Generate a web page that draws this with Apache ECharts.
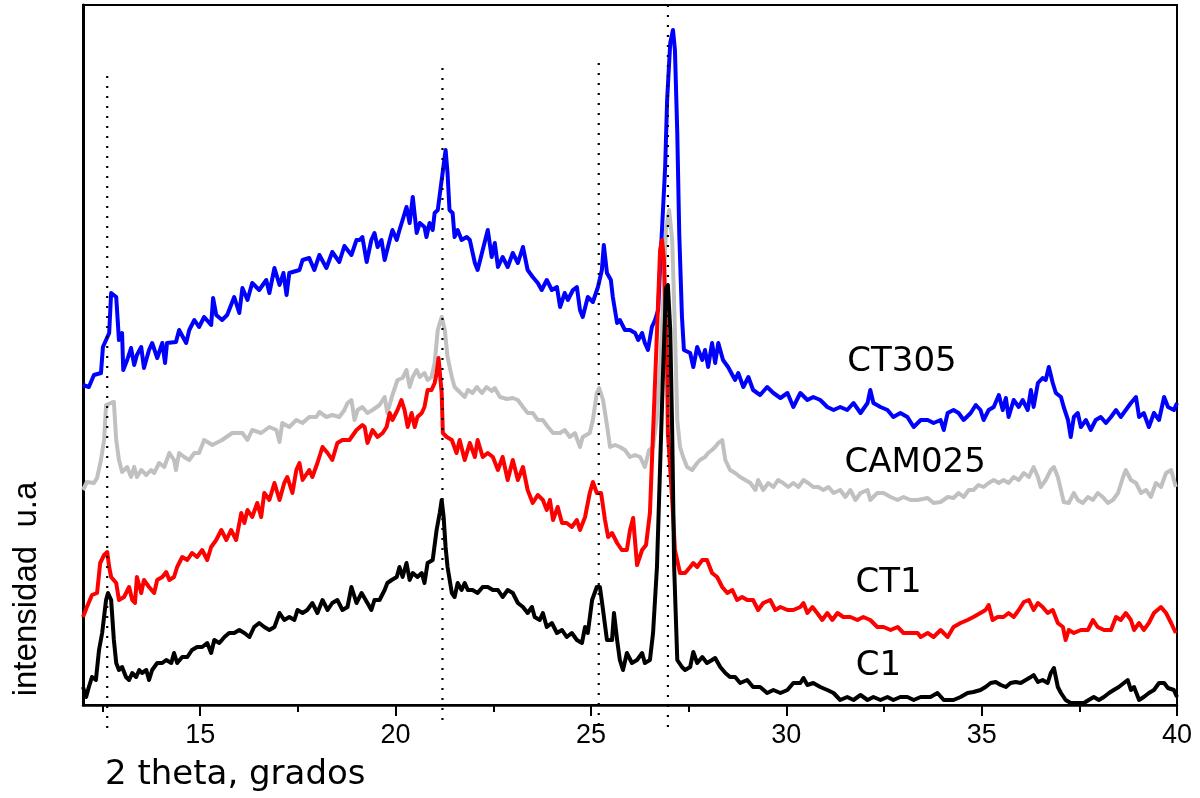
<!DOCTYPE html>
<html><head><meta charset="utf-8">
<script src="https://cdn.jsdelivr.net/npm/echarts@6/dist/echarts.min.js"></script>
<style>html,body{margin:0;padding:0;background:#fff}#c{width:1200px;height:798px}</style>
</head><body><div id="c"></div>
<script>
// 2 theta (grados) vs intensidad (u.a.)
const majorTicks = [15, 20, 25, 30, 35, 40];
const minorTicks = [12.5, 17.5, 22.5, 27.5, 32.5, 37.5];
const refPeaks = [12.62, 21.2, 25.2, 26.97];
const refTop = [630, 638, 643, 701];
const refBottom = -22;
const curveNames = ['CT305', 'CAM025', 'CT1', 'C1'];
const labelPos = [[32.96, 344], [33.30, 243], [32.62, 123], [32.36, 40]];

const ct305 = [[12.00,321],[12.15,319],[12.28,331],[12.46,333],[12.51,359],[12.67,373],[12.72,413],[12.85,409],[12.92,366],[13.00,373],
[13.03,336],[13.13,346],[13.23,358],[13.31,341],[13.38,351],[13.49,359],[13.56,338],[13.69,356],[13.77,363],[13.90,348],
[14.03,363],[14.10,343],[14.15,363],[14.38,364],[14.46,376],[14.64,363],[14.72,376],[14.85,386],[14.97,379],[15.10,389],
[15.28,381],[15.33,408],[15.41,391],[15.56,386],[15.69,391],[15.87,409],[16.00,393],[16.08,418],[16.21,406],[16.33,423],
[16.51,416],[16.69,426],[16.77,413],[16.90,438],[17.03,421],[17.13,433],[17.21,411],[17.28,433],[17.54,436],[17.62,446],
[17.79,448],[17.92,436],[18.05,451],[18.23,438],[18.38,454],[18.56,444],[18.69,460],[18.87,451],[19.00,466],[19.08,466],
[19.15,469],[19.26,444],[19.38,466],[19.46,473],[19.54,459],[19.64,466],[19.72,446],[19.85,466],[19.92,476],[20.03,466],
[20.10,476],[20.18,486],[20.28,499],[20.36,483],[20.44,509],[20.54,473],[20.62,483],[20.74,479],[20.79,469],[20.87,483],
[20.95,476],[21.00,493],[21.08,496],[21.18,526],[21.28,556],[21.33,533],[21.38,496],[21.46,493],[21.51,469],[21.59,476],
[21.69,466],[21.82,469],[21.90,466],[22.03,443],[22.10,436],[22.23,456],[22.36,476],[22.46,449],[22.54,463],[22.62,439],
[22.74,449],[22.87,439],[23.00,453],[23.13,443],[23.26,459],[23.38,436],[23.51,429],[23.64,423],[23.74,416],[23.87,426],
[24.00,416],[24.13,419],[24.21,399],[24.33,413],[24.41,406],[24.54,416],[24.64,419],[24.72,396],[24.79,389],[24.92,409],
[25.05,404],[25.18,419],[25.28,436],[25.33,461],[25.41,433],[25.51,426],[25.56,409],[25.67,383],[25.74,386],[25.87,376],
[26.00,376],[26.13,373],[26.21,366],[26.31,373],[26.38,363],[26.46,356],[26.56,379],[26.64,386],[26.72,396],[26.77,439],
[26.90,539],[26.95,606],[27.03,663],[27.10,676],[27.15,656],[27.21,573],[27.26,473],[27.33,389],[27.38,356],[27.54,353],
[27.62,339],[27.72,359],[27.85,346],[27.92,356],[28.00,339],[28.10,363],[28.18,343],[28.26,363],[28.38,346],[28.51,339],
[28.69,326],[28.77,333],[28.90,319],[29.03,329],[29.15,316],[29.33,311],[29.51,319],[29.67,313],[29.85,308],[30.03,313],
[30.18,299],[30.36,313],[30.54,306],[30.69,309],[30.87,306],[31.05,299],[31.21,296],[31.38,299],[31.56,296],[31.72,303],
[31.90,293],[32.08,303],[32.15,316],[32.23,303],[32.41,299],[32.59,296],[32.74,289],[32.92,293],[33.10,289],[33.26,279],
[33.44,286],[33.62,286],[33.77,283],[33.95,286],[34.03,276],[34.13,293],[34.28,296],[34.41,293],[34.54,286],[34.72,293],
[34.85,301],[34.97,296],[35.05,286],[35.18,296],[35.31,299],[35.44,311],[35.54,296],[35.62,308],[35.69,289],[35.82,306],
[35.95,299],[36.05,306],[36.18,296],[36.26,316],[36.33,299],[36.44,323],[36.56,328],[36.64,326],[36.72,339],[36.82,323],
[36.90,313],[37.03,309],[37.10,299],[37.21,286],[37.28,269],[37.36,289],[37.46,293],[37.54,279],[37.67,286],[37.79,276],
[37.92,286],[38.05,289],[38.18,283],[38.31,289],[38.44,296],[38.56,289],[38.69,296],[38.82,303],[38.95,309],[39.03,289],
[39.15,293],[39.28,279],[39.41,293],[39.54,286],[39.67,309],[39.77,299],[39.92,296],[40.00,303]];

const cam025 = [[12.00,216],[12.10,224],[12.28,223],[12.36,228],[12.46,246],[12.54,266],[12.59,301],[12.72,303],[12.79,304],[12.85,266],
[12.92,246],[13.00,234],[13.13,239],[13.23,229],[13.31,239],[13.38,229],[13.49,236],[13.62,231],[13.74,236],[13.82,233],
[13.95,243],[14.08,239],[14.21,253],[14.33,246],[14.38,236],[14.46,253],[14.59,249],[14.72,246],[14.85,253],[14.97,253],
[15.10,266],[15.31,261],[15.56,266],[15.82,273],[16.08,273],[16.21,266],[16.33,276],[16.56,273],[16.77,279],[16.95,276],
[17.03,264],[17.10,283],[17.28,279],[17.46,286],[17.62,283],[17.79,289],[17.97,289],[18.05,294],[18.23,289],[18.38,291],
[18.56,289],[18.69,296],[18.77,303],[18.87,306],[18.95,286],[19.03,296],[19.15,299],[19.28,293],[19.41,296],[19.59,301],
[19.72,309],[19.79,293],[19.92,311],[20.05,326],[20.18,328],[20.28,336],[20.36,319],[20.44,329],[20.54,336],[20.62,329],
[20.74,333],[20.82,326],[20.92,329],[21.00,343],[21.08,376],[21.18,389],[21.26,376],[21.33,349],[21.44,329],[21.51,319],
[21.64,314],[21.77,309],[21.85,316],[21.97,313],[22.08,319],[22.21,313],[22.33,319],[22.46,315],[22.54,318],[22.67,309],
[22.85,307],[23.00,308],[23.13,306],[23.26,299],[23.38,293],[23.51,293],[23.64,286],[23.77,286],[23.90,279],[24.03,273],
[24.21,273],[24.33,276],[24.46,269],[24.59,273],[24.72,259],[24.79,269],[24.97,273],[25.05,286],[25.15,313],[25.21,318],
[25.31,306],[25.41,281],[25.49,259],[25.62,261],[25.74,259],[25.87,256],[26.00,249],[26.13,251],[26.26,249],[26.38,239],
[26.49,256],[26.59,259],[26.69,289],[26.77,339],[26.85,406],[26.92,476],[27.00,496],[27.08,466],[27.15,376],[27.21,286],
[27.28,259],[27.36,249],[27.46,239],[27.59,236],[27.72,243],[27.79,246],[27.92,249],[28.00,253],[28.10,256],[28.18,259],
[28.26,263],[28.36,266],[28.44,246],[28.56,236],[28.69,233],[28.82,229],[28.95,226],[29.08,223],[29.21,216],[29.28,226],
[29.41,216],[29.54,223],[29.67,219],[29.79,226],[29.92,223],[30.05,219],[30.18,223],[30.31,219],[30.44,226],[30.56,223],
[30.69,219],[30.82,219],[30.95,216],[31.08,219],[31.21,213],[31.38,216],[31.51,209],[31.64,216],[31.77,206],[31.90,213],
[32.08,216],[32.15,206],[32.33,213],[32.49,213],[32.67,209],[32.85,206],[33.00,209],[33.18,206],[33.36,206],[33.62,208],
[33.77,203],[33.95,204],[34.13,209],[34.28,208],[34.41,213],[34.54,209],[34.67,216],[34.79,216],[34.92,221],[35.05,219],
[35.18,223],[35.31,226],[35.44,223],[35.56,226],[35.69,223],[35.82,229],[35.95,226],[36.08,233],[36.21,229],[36.33,239],
[36.44,229],[36.51,219],[36.64,226],[36.77,236],[36.85,239],[36.95,229],[37.03,216],[37.10,204],[37.23,203],[37.36,213],
[37.46,206],[37.59,203],[37.72,209],[37.85,206],[37.97,213],[38.10,209],[38.23,203],[38.36,206],[38.49,213],[38.62,229],
[38.69,236],[38.82,226],[38.95,223],[39.08,213],[39.21,216],[39.33,209],[39.46,223],[39.59,219],[39.72,233],[39.85,236],
[39.97,219]];

const ct1 = [[12.00,89],[12.10,99],[12.23,111],[12.36,113],[12.44,143],[12.54,151],[12.62,154],[12.67,139],[12.72,129],[12.85,123],
[12.92,106],[13.05,109],[13.18,119],[13.26,106],[13.33,103],[13.38,129],[13.49,113],[13.56,126],[13.69,119],[13.82,113],
[13.90,126],[14.03,129],[14.13,134],[14.21,126],[14.33,129],[14.41,139],[14.54,149],[14.67,146],[14.79,153],[14.92,149],
[15.05,156],[15.18,146],[15.28,159],[15.41,166],[15.54,176],[15.67,166],[15.79,176],[15.92,166],[16.05,193],[16.13,183],
[16.21,196],[16.33,189],[16.46,203],[16.56,189],[16.64,213],[16.77,206],[16.90,223],[17.03,206],[17.15,223],[17.23,229],
[17.36,213],[17.46,236],[17.54,243],[17.62,226],[17.79,236],[17.87,229],[18.00,243],[18.13,259],[18.26,253],[18.38,246],
[18.51,263],[18.64,266],[18.82,266],[19.00,276],[19.15,281],[19.21,279],[19.28,263],[19.41,276],[19.54,269],[19.67,273],
[19.77,279],[19.85,293],[19.92,286],[20.05,296],[20.15,306],[20.23,296],[20.31,279],[20.41,293],[20.49,279],[20.56,289],
[20.67,293],[20.74,299],[20.82,316],[20.92,316],[21.00,323],[21.05,333],[21.10,348],[21.18,313],[21.21,273],[21.31,269],
[21.44,266],[21.56,253],[21.64,266],[21.77,246],[21.90,263],[22.03,249],[22.10,266],[22.23,249],[22.36,253],[22.49,249],
[22.62,236],[22.74,249],[22.87,226],[23.00,246],[23.13,226],[23.26,239],[23.38,216],[23.51,203],[23.64,211],[23.77,206],
[23.87,196],[23.95,206],[24.03,186],[24.15,199],[24.26,183],[24.38,183],[24.51,179],[24.64,186],[24.72,176],[24.85,189],
[24.97,213],[25.05,224],[25.15,213],[25.26,213],[25.36,186],[25.44,169],[25.54,173],[25.67,163],[25.79,156],[25.92,156],
[26.00,176],[26.08,188],[26.18,141],[26.31,156],[26.41,161],[26.51,193],[26.59,273],[26.69,373],[26.77,456],[26.82,466],
[26.87,446],[26.95,339],[26.97,273],[27.08,206],[27.15,156],[27.28,133],[27.41,133],[27.54,139],[27.62,143],[27.72,139],
[27.85,146],[27.97,146],[28.10,133],[28.23,129],[28.36,119],[28.49,113],[28.62,116],[28.74,106],[28.87,109],[29.00,106],
[29.15,106],[29.28,96],[29.41,103],[29.59,106],[29.72,96],[29.85,99],[30.03,96],[30.18,96],[30.36,99],[30.44,103],
[30.54,93],[30.67,99],[30.79,93],[30.92,86],[31.05,93],[31.18,86],[31.31,93],[31.46,89],[31.64,89],[31.82,86],
[31.97,89],[32.15,86],[32.33,79],[32.49,79],[32.67,76],[32.85,79],[33.00,73],[33.18,73],[33.36,73],[33.44,69],
[33.62,73],[33.77,69],[33.95,76],[34.13,69],[34.28,79],[34.46,83],[34.64,86],[34.79,89],[34.97,93],[35.10,96],
[35.18,101],[35.28,86],[35.41,89],[35.56,89],[35.69,93],[35.82,89],[35.95,96],[36.08,104],[36.21,106],[36.33,96],
[36.44,103],[36.56,99],[36.69,93],[36.82,96],[36.95,83],[37.08,79],[37.15,66],[37.23,76],[37.36,73],[37.54,76],
[37.72,76],[37.85,86],[37.97,79],[38.13,76],[38.31,76],[38.44,89],[38.56,86],[38.69,93],[38.82,86],[38.90,76],
[39.03,83],[39.15,76],[39.28,83],[39.41,93],[39.59,99],[39.72,93],[39.85,83],[39.97,73]];

const c1 = [[12.00,19],[12.08,9],[12.15,19],[12.23,29],[12.33,26],[12.41,56],[12.49,73],[12.59,106],[12.64,113],[12.72,106],
[12.79,66],[12.85,43],[12.92,36],[13.00,39],[13.10,29],[13.18,26],[13.26,33],[13.36,29],[13.44,36],[13.51,33],
[13.62,36],[13.69,26],[13.77,36],[13.90,43],[14.03,43],[14.13,46],[14.26,43],[14.33,53],[14.41,43],[14.54,49],
[14.67,49],[14.79,56],[14.92,59],[15.05,59],[15.18,63],[15.28,53],[15.36,66],[15.49,63],[15.62,69],[15.74,73],
[15.87,73],[16.00,76],[16.13,73],[16.26,69],[16.38,79],[16.51,83],[16.64,79],[16.77,76],[16.90,79],[17.03,93],
[17.15,86],[17.28,89],[17.41,86],[17.49,96],[17.62,93],[17.74,96],[17.87,103],[18.00,93],[18.13,106],[18.26,96],
[18.38,103],[18.51,106],[18.64,96],[18.77,99],[18.87,119],[19.00,103],[19.13,113],[19.28,103],[19.38,96],[19.46,106],
[19.59,106],[19.72,116],[19.79,123],[19.90,126],[20.03,129],[20.10,139],[20.18,129],[20.28,143],[20.36,126],[20.44,133],
[20.56,129],[20.67,133],[20.74,123],[20.82,143],[20.95,146],[21.05,176],[21.13,193],[21.18,206],[21.23,189],[21.28,159],
[21.33,139],[21.44,113],[21.51,109],[21.59,123],[21.69,116],[21.77,123],[21.85,116],[21.97,116],[22.10,113],[22.23,119],
[22.36,119],[22.49,116],[22.62,116],[22.74,109],[22.87,116],[23.00,113],[23.13,103],[23.26,99],[23.38,93],[23.49,99],
[23.56,89],[23.69,86],[23.77,93],[23.87,79],[24.00,83],[24.13,73],[24.26,76],[24.38,69],[24.51,73],[24.64,66],
[24.77,63],[24.85,79],[24.92,73],[25.03,106],[25.15,119],[25.23,119],[25.31,96],[25.41,66],[25.54,66],[25.59,93],
[25.67,66],[25.74,46],[25.82,36],[25.92,53],[26.05,43],[26.18,46],[26.31,53],[26.38,43],[26.51,46],[26.59,73],
[26.69,139],[26.77,239],[26.85,339],[26.92,418],[26.97,421],[27.03,376],[27.08,273],[27.13,139],[27.21,46],[27.33,39],
[27.41,36],[27.54,39],[27.62,54],[27.72,43],[27.85,49],[27.97,43],[28.10,46],[28.18,48],[28.31,39],[28.44,33],
[28.56,29],[28.69,29],[28.82,23],[29.00,26],[29.15,19],[29.33,19],[29.51,13],[29.67,16],[29.85,13],[30.03,16],
[30.18,23],[30.36,23],[30.44,28],[30.54,21],[30.69,23],[30.87,19],[31.05,16],[31.21,13],[31.38,6],[31.56,9],
[31.72,6],[31.90,11],[32.08,6],[32.23,9],[32.41,6],[32.59,9],[32.74,6],[32.92,9],[33.10,9],[33.26,6],
[33.44,9],[33.69,9],[33.87,13],[34.03,6],[34.28,6],[34.46,9],[34.64,13],[34.79,14],[34.97,16],[35.10,19],
[35.23,23],[35.36,24],[35.49,21],[35.62,19],[35.74,23],[35.87,24],[36.00,23],[36.13,26],[36.26,29],[36.33,31],
[36.44,24],[36.56,26],[36.69,23],[36.77,33],[36.85,38],[36.95,19],[37.03,13],[37.15,6],[37.28,3],[37.46,3],
[37.62,3],[37.74,6],[37.87,9],[38.00,6],[38.13,9],[38.26,13],[38.38,16],[38.51,19],[38.64,23],[38.74,26],
[38.82,16],[38.90,19],[39.03,6],[39.15,9],[39.28,13],[39.41,16],[39.54,23],[39.67,23],[39.77,18],[39.92,16],
[40.00,9]];

const chart = echarts.init(document.getElementById('c'), null, {renderer: 'canvas'});
const lineW = 4;
function curve(name, data, color) {
  return {name, type: 'line', data, showSymbol: false, symbol: 'none', smooth: false,
    lineStyle: {color, width: lineW, join: 'round', opacity: 1}, z: 2, animation: false};
}
const refSeries = refPeaks.map((p, i) => ({
  type: 'line', data: [[p, refTop[i]], [p, refBottom]], showSymbol: false, symbol: 'none',
  clip: false, lineStyle: {color: '#000', width: 2.2, type: [2, 8]}, z: 5, animation: false, silent: true
}));
const labelSeries = {
  type: 'scatter', symbolSize: 0, z: 6, animation: false, silent: true,
  itemStyle: {opacity: 1, color: '#000'},
  data: curveNames.map((n, i) => ({name: n, value: labelPos[i]})),
  label: {show: true, position: 'inside', formatter: p => p.name, color: '#000000', opacity: 1,
    fontFamily: 'DejaVu Sans', fontSize: 34}
};
chart.setOption({
  animation: false,
  backgroundColor: '#fff',
  grid: {left: 83, right: 23, top: 5, bottom: 93, show: true, borderColor: '#000', borderWidth: 2},
  xAxis: [
    {type: 'value', min: 12, max: 40, position: 'bottom',
      axisLine: {show: true, lineStyle: {color: '#000', width: 2.5}},
      axisTick: {show: true, customValues: majorTicks, length: 11, inside: false, lineStyle: {color: '#000', width: 2}},
      axisLabel: {show: true, customValues: majorTicks, margin: 17, color: '#000',
        fontFamily: 'Liberation Sans', fontSize: 27},
      splitLine: {show: false}},
    {type: 'value', min: 12, max: 40, position: 'bottom',
      axisLine: {show: false},
      axisTick: {show: true, customValues: minorTicks, length: 7, inside: false, lineStyle: {color: '#000', width: 2}},
      axisLabel: {show: false}, splitLine: {show: false}}
  ],
  yAxis: [
    {type: 'value', min: 1, max: 701, position: 'left',
      axisLine: {show: true, lineStyle: {color: '#000', width: 3}},
      axisTick: {show: false}, axisLabel: {show: false}, splitLine: {show: false}}
  ],
  graphic: [
    {type: 'text', x: 105, y: 775, style: {text: '2 theta, grados', fill: '#000',
      font: '34px "DejaVu Sans"', textAlign: 'left', textVerticalAlign: 'middle'}},
    {type: 'text', x: 27, y: 589, rotation: Math.PI / 2, style: {text: 'intensidad  u.a', fill: '#000',
      font: '33px "Liberation Sans"', textAlign: 'center', textVerticalAlign: 'middle'}}
  ],
  series: [
    curve('CAM025', cam025, '#c0c0c0'),
    curve('CT305', ct305, '#0000ff'),
    curve('CT1', ct1, '#ff0000'),
    curve('C1', c1, '#000000'),
    ...refSeries,
    labelSeries
  ]
});
</script>
</body></html>
